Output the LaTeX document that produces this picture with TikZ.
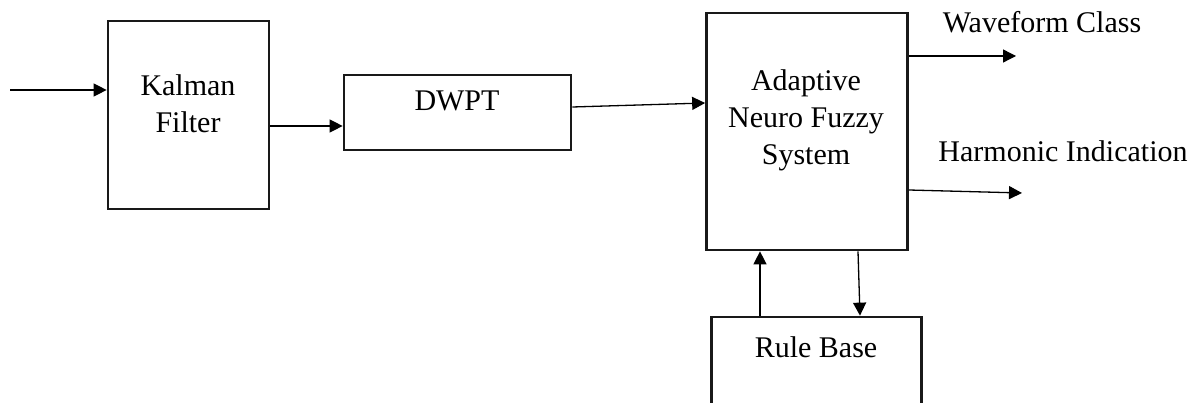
\documentclass[tikz,border=0pt]{standalone}
\usepackage{fontspec}
\setmainfont{Liberation Serif}
\usetikzlibrary{arrows.meta}
\begin{document}
\begin{tikzpicture}[x=1pt,y=-1pt,
  blockbox/.style={draw=black!90,line width=2.7pt,inner sep=0pt},
  txt/.style={inner sep=0pt,align=center,font=\fontsize{30}{37}\selectfont},
  arr/.style={line width=1.3pt,-{Triangle[length=13pt,width=13pt]}}]
\useasboundingbox (0,0) rectangle (1199,403);
\clip (0,0) rectangle (1199,403);
% boxes
\node[blockbox,minimum width=161pt,minimum height=188pt] (kf) at (188.5,115) {};
\node[blockbox,minimum width=227pt,minimum height=75pt] (dw) at (457.5,112.5) {};
\node[blockbox,minimum width=201pt,minimum height=237pt] (an) at (807,131.5) {};
\node[blockbox,minimum width=210pt,minimum height=140pt] (rb) at (816.5,387) {};
% texts
\node[txt] (kft) at (188,104) {Kalman\\Filter};
\node[txt,anchor=base] (dwt) at (457,111) {DWPT};
\node[txt] (ant) at (806,120.5) {Adaptive\\Neuro Fuzzy\\System};
\node[txt,anchor=base] (rbt) at (816,357) {Rule Base};
\node[txt,anchor=base] (wc) at (1042,33) {Waveform Class};
\node[txt,anchor=base] (hi) at (1063,162) {Harmonic Indication};
% connectors
\coordinate (in) at (10,90);
\coordinate (o1) at (1016,56);
\coordinate (o2) at (1022,193);
\draw[arr] (in) -- (in -| kf.west);
\draw[arr] (kf.east |- 0,126) -- (dw.west |- 0,126);
\draw[arr] (dw.east |- 0,107) -- (an.west |- 0,103);
\draw[arr] (an.east |- o1) -- (o1);
\draw[arr] (an.east |- 0,190) -- (o2);
\draw[arr] (rb.north -| 760,0) -- (an.south -| 760,0);
\draw[arr] (an.south -| 858,0) -- (rb.north -| 860,0);
\end{tikzpicture}
\end{document}
